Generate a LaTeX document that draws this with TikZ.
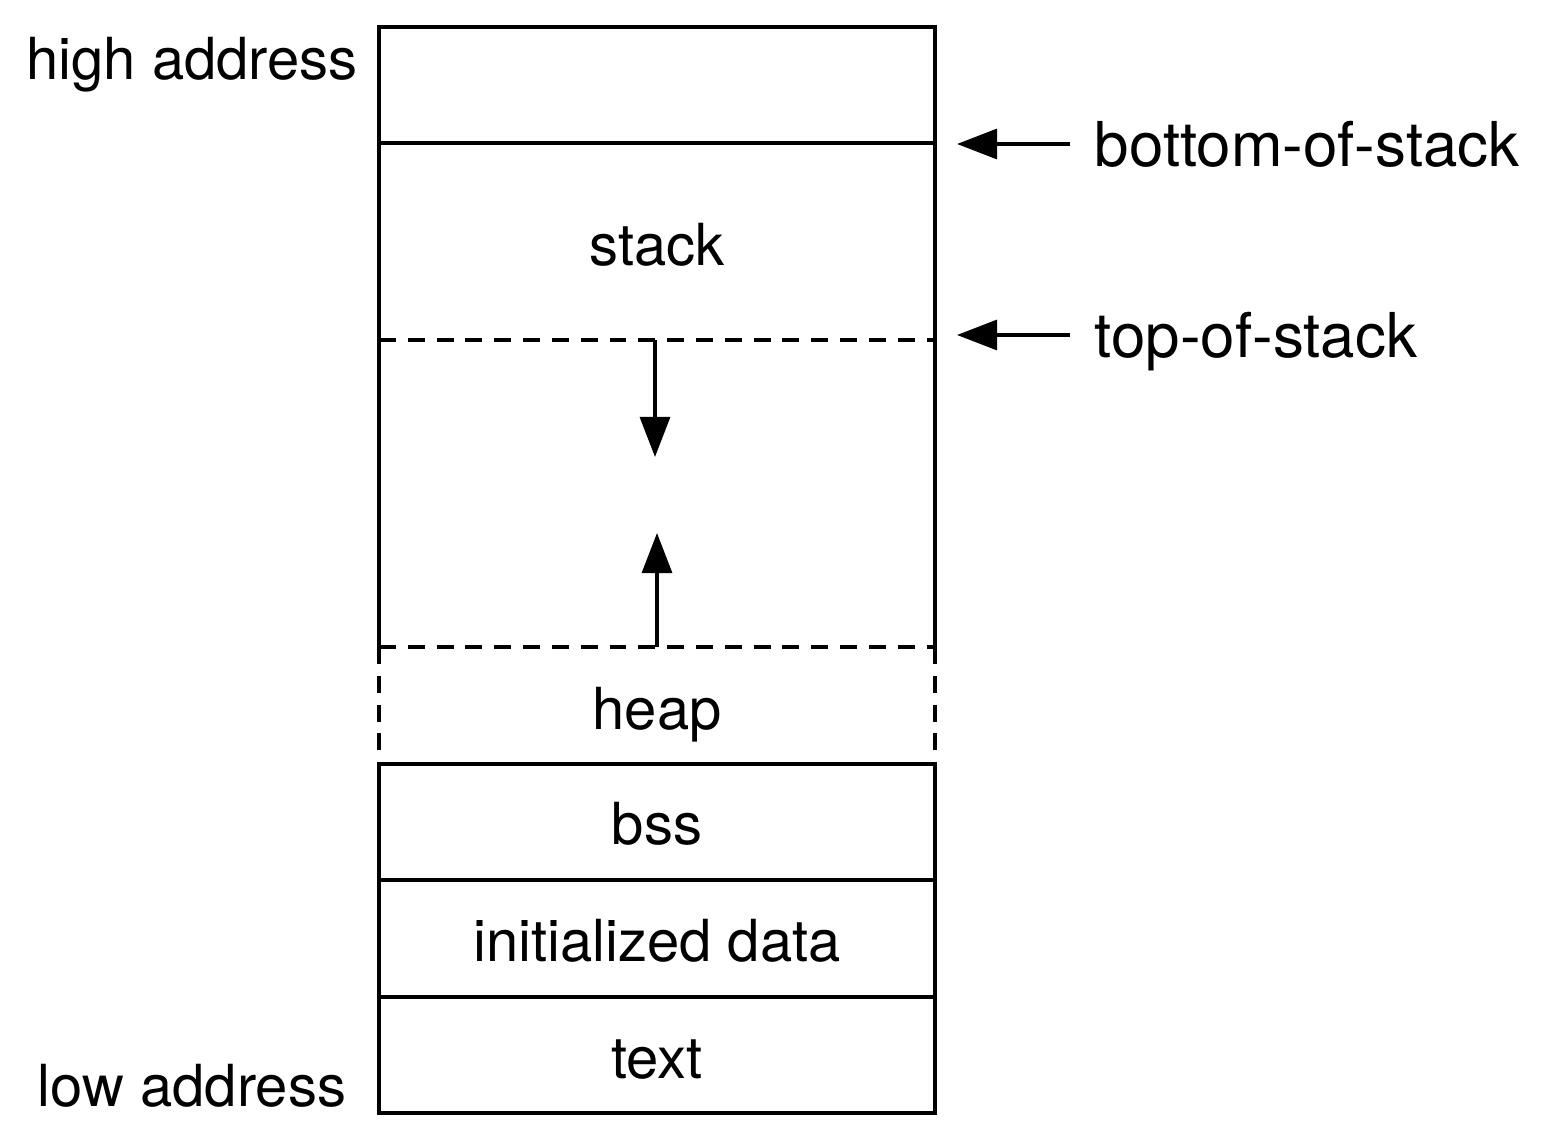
\documentclass[tikz,border=0pt]{standalone}
\usepackage{fontspec}
\setmainfont{TeX Gyre Heros}
\usetikzlibrary{arrows.meta}
\tikzset{
  seglabel/.style={inner sep=0pt, text height=11.9pt, text depth=0pt},
  sidelabel/.style={inner sep=0pt, text height=12.7pt, text depth=0pt, anchor=west,
    font=\fontsize{17.6}{21}\selectfont},
  growline/.style={dash pattern=on 4.8pt off 3.4pt},
}
\begin{document}
\begin{tikzpicture}[font=\fontsize{16.5}{20}\selectfont, line width=1.05pt,
    >={Triangle[length=11.4pt,width=8.5pt]}]
  \useasboundingbox (0,0) rectangle (15.41,11.45);
  % memory column
  \draw (3.79,4.98) -- (3.79,11.18) -- (9.35,11.18) -- (9.35,4.98);
  \draw (3.79,3.81) -- (3.79,0.32) -- (9.35,0.32) -- (9.35,3.81);
  \draw[growline] (3.79,4.98) -- (3.79,3.81);
  \draw[growline] (9.35,4.98) -- (9.35,3.81);
  \draw (3.79,10.02) -- (9.35,10.02);
  \draw[growline] (3.79,8.05) -- (9.35,8.05);
  \draw[growline] (3.79,4.98) -- (9.35,4.98);
  \draw (3.79,3.81) -- (9.35,3.81);
  \draw (3.79,2.65) -- (9.35,2.65);
  \draw (3.79,1.48) -- (9.35,1.48);
  % segment names
  \node[seglabel] (stack) at (6.57,9.00) {stack};
  \node[seglabel] (heap) at (6.57,4.36) {heap};
  \node[seglabel] (bss) at (6.57,3.21) {bss};
  \node[seglabel] (data) at (6.57,2.04) {initialized data};
  \node[seglabel] (text) at (6.57,0.87) {text};
  % addresses
  \node[seglabel] (high) at (1.92,10.86) {high address};
  \node[seglabel] (low) at (1.92,0.59) {low address};
  % stack pointers
  \node[sidelabel] (bos) at (10.93,10.01) {bottom-of-stack};
  \node[sidelabel] (tos) at (10.93,8.10) {top-of-stack};
  \coordinate (bosTip) at (9.57,10.01);
  \coordinate (tosTip) at (9.57,8.10);
  \draw[->, shorten <=0.23cm] (bos.west) -- (bosTip);
  \draw[->, shorten <=0.23cm] (tos.west) -- (tosTip);
  % growth directions
  \coordinate (stackEnd) at (6.55,8.05);
  \coordinate (stackTip) at (6.55,6.88);
  \coordinate (heapEnd) at (6.57,4.98);
  \coordinate (heapTip) at (6.57,6.12);
  \draw[->] (stackEnd) -- (stackTip);
  \draw[->] (heapEnd) -- (heapTip);
\end{tikzpicture}
\end{document}
